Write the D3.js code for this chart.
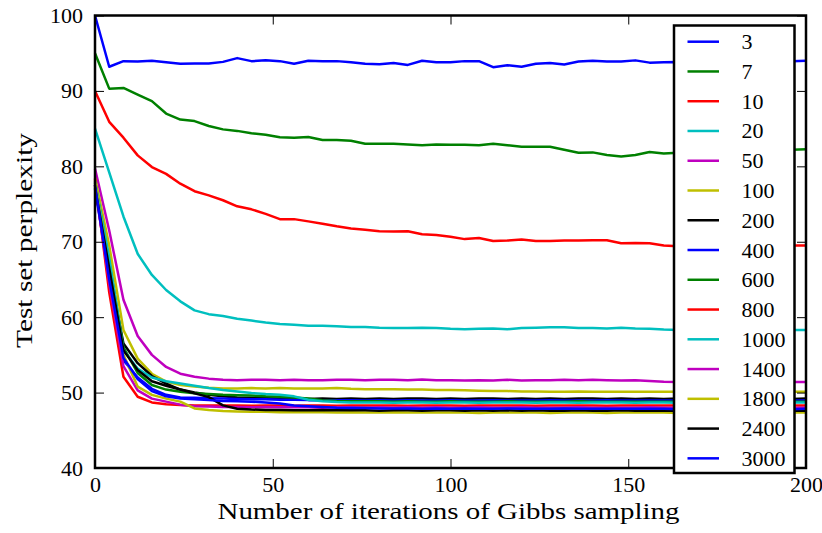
<!DOCTYPE html>
<html>
<head>
<meta charset="utf-8">
<script src="https://cdn.jsdelivr.net/npm/d3@7/dist/d3.min.js"></script>
<style>
  html, body { margin: 0; padding: 0; background: #fff; }
  svg { display: block; }
  text { font-family: "Liberation Serif", "Times New Roman", serif; fill: #000; }
</style>
</head>
<body>
<svg id="chart" width="822" height="533"></svg>
<script>
// Gibbs sampling iterations at which test-set perplexity was measured
const iterations = [
  0, 4, 8, 12, 16, 20, 24, 28, 32, 36,
  40, 44, 48, 52, 56, 60, 64, 68, 72, 76,
  80, 84, 88, 92, 96, 100, 104, 108, 112, 116,
  120, 124, 128, 132, 136, 140, 144, 148, 152, 156,
  160, 164, 168, 172, 176, 180, 184, 188, 192, 196,
  200
];

// Number of topics for each run (legend labels)
const topicCounts = ["3", "7", "10", "20", "50", "100", "200", "400", "600", "800", "1000", "1400", "1800", "2400", "3000"];

// Classic matplotlib colour cycle b, g, r, c, m, y, k
const lineColors = [
  "#0000ff", "#008000", "#ff0000", "#00bfbf", "#bf00bf", "#bfbf00", "#000000",
  "#0000ff", "#008000", "#ff0000", "#00bfbf", "#bf00bf", "#bfbf00", "#000000", "#0000ff"
];

const perp3 = [
  100, 93.2, 93.95, 93.9, 94.0, 93.8, 93.6, 93.65, 93.65, 93.85,
  94.35, 93.95, 94.05, 93.95, 93.6, 94.0, 93.95, 93.95, 93.8, 93.6,
  93.55, 93.7, 93.45, 94.0, 93.8, 93.8, 93.95, 93.95, 93.15, 93.4,
  93.2, 93.6, 93.7, 93.5, 93.9, 94.0, 93.9, 93.9, 94.05, 93.75,
  93.8, 93.85, 93.7, 93.9, 94.0, 93.8, 93.9, 94.1, 93.9, 93.95,
  94.0
];
const perp7 = [
  95.0, 90.3, 90.4, 89.5, 88.65, 87.0, 86.2, 86.0, 85.35, 84.9,
  84.7, 84.4, 84.2, 83.85, 83.8, 83.9, 83.5, 83.5, 83.4, 83.0,
  83.0, 83.0, 82.9, 82.8, 82.9, 82.85, 82.85, 82.8, 83.0, 82.8,
  82.6, 82.6, 82.6, 82.2, 81.8, 81.85, 81.5, 81.3, 81.5, 81.9,
  81.7, 81.8, 81.9, 82.1, 81.95, 82.0, 82.2, 82.1, 82.0, 82.2,
  82.25
];
const perp10 = [
  90.0, 85.9, 83.8, 81.45, 79.9, 79.0, 77.7, 76.7, 76.15, 75.5,
  74.7, 74.3, 73.7, 73.0, 73.0, 72.7, 72.4, 72.05, 71.75, 71.6,
  71.4, 71.35, 71.4, 71.0, 70.9, 70.65, 70.35, 70.5, 70.1, 70.15,
  70.3, 70.1, 70.1, 70.15, 70.15, 70.2, 70.2, 69.8, 69.85, 69.8,
  69.5, 69.4, 69.6, 69.5, 69.3, 69.45, 69.5, 69.3, 69.4, 69.5,
  69.5
];
const perp20 = [
  85.0, 79.2, 73.35, 68.4, 65.6, 63.6, 62.1, 60.9, 60.4, 60.15,
  59.8, 59.55, 59.3, 59.1, 59.0, 58.85, 58.85, 58.8, 58.7, 58.7,
  58.6, 58.55, 58.55, 58.6, 58.55, 58.45, 58.4, 58.45, 58.5, 58.4,
  58.55, 58.6, 58.65, 58.65, 58.55, 58.55, 58.5, 58.6, 58.5, 58.45,
  58.35, 58.3, 58.4, 58.35, 58.3, 58.4, 58.3, 58.35, 58.3, 58.3,
  58.3
];
const perp50 = [
  79.7, 71.5, 62.3, 57.5, 55.0, 53.4, 52.5, 52.1, 51.85, 51.7,
  51.65, 51.7, 51.7, 51.65, 51.7, 51.65, 51.65, 51.7, 51.7, 51.65,
  51.7, 51.7, 51.65, 51.75, 51.65, 51.65, 51.6, 51.65, 51.6, 51.7,
  51.6, 51.65, 51.65, 51.7, 51.65, 51.7, 51.65, 51.6, 51.65, 51.55,
  51.45, 51.4, 51.5, 51.4, 51.45, 51.4, 51.35, 51.4, 51.35, 51.4,
  51.4
];
const perp100 = [
  78.5, 69.5, 58.3, 54.5, 52.5, 51.45, 51.0, 50.8, 50.65, 50.55,
  50.55, 50.6, 50.55, 50.6, 50.55, 50.55, 50.55, 50.6, 50.5, 50.45,
  50.45, 50.45, 50.4, 50.4, 50.35, 50.35, 50.3, 50.25, 50.2, 50.2,
  50.15, 50.15, 50.1, 50.1, 50.15, 50.1, 50.1, 50.1, 50.1, 50.1,
  50.1, 50.1, 50.1, 50.05, 50.1, 50.1, 50.05, 50.1, 50.1, 50.1,
  50.1
];
const perp200 = [
  77.5, 66.0, 56.5, 53.9, 52.2, 51.2, 50.4, 50.0, 49.7, 49.5,
  49.35, 49.3, 49.25, 49.2, 49.2, 49.15, 49.2, 49.15, 49.2, 49.15,
  49.2, 49.15, 49.2, 49.2, 49.15, 49.2, 49.15, 49.2, 49.2, 49.15,
  49.2, 49.15, 49.2, 49.15, 49.2, 49.2, 49.15, 49.2, 49.15, 49.2,
  49.15, 49.2, 49.15, 49.2, 49.15, 49.2, 49.15, 49.2, 49.2, 49.15,
  49.2
];
const perp400 = [
  77.0, 65.5, 54.3, 52.0, 50.5, 49.7, 49.35, 49.3, 49.25, 49.2,
  49.15, 49.1, 49.1, 49.05, 49.05, 49.0, 49.0, 49.0, 49.0, 48.95,
  49.0, 48.95, 49.0, 48.95, 48.95, 49.0, 48.95, 48.95, 49.0, 48.95,
  48.95, 48.95, 49.0, 48.95, 48.95, 48.95, 49.0, 48.95, 48.95, 48.95,
  48.95, 48.95, 48.95, 49.0, 48.95, 48.95, 48.95, 48.95, 48.95, 48.95,
  48.95
];
const perp600 = [
  77.8, 67.5, 56.0, 52.6, 51.0, 50.4, 50.1, 49.9, 49.8, 49.7,
  49.65, 49.6, 49.5, 49.45, 49.35, 49.2, 49.0, 48.9, 48.85, 48.85,
  48.85, 48.8, 48.85, 48.8, 48.8, 48.85, 48.8, 48.8, 48.8, 48.85,
  48.8, 48.8, 48.8, 48.8, 48.85, 48.8, 48.8, 48.8, 48.8, 48.8,
  48.8, 48.8, 48.8, 48.8, 48.8, 48.8, 48.8, 48.8, 48.8, 48.8,
  48.8
];
const perp800 = [
  78.3, 63.3, 52.1, 49.45, 48.7, 48.45, 48.35, 48.3, 48.3, 48.3,
  48.3, 48.25, 48.3, 48.3, 48.25, 48.3, 48.3, 48.25, 48.3, 48.3,
  48.3, 48.3, 48.25, 48.3, 48.3, 48.3, 48.25, 48.3, 48.3, 48.3,
  48.3, 48.25, 48.3, 48.3, 48.3, 48.3, 48.25, 48.3, 48.3, 48.3,
  48.3, 48.3, 48.25, 48.3, 48.3, 48.3, 48.3, 48.25, 48.3, 48.3,
  48.3
];
const perp1000 = [
  78.0, 67.8, 55.6, 53.2, 52.0, 51.5, 51.2, 50.9, 50.6, 50.35,
  50.15, 49.95, 49.8, 49.7, 49.5, 49.05, 48.85, 48.75, 48.7, 48.7,
  48.7, 48.65, 48.7, 48.7, 48.65, 48.7, 48.7, 48.65, 48.7, 48.7,
  48.7, 48.65, 48.7, 48.7, 48.65, 48.7, 48.7, 48.7, 48.65, 48.7,
  48.7, 48.65, 48.7, 48.7, 48.7, 48.65, 48.7, 48.7, 48.65, 48.7,
  48.7
];
const perp1400 = [
  77.5, 64.5, 53.5, 50.3, 49.2, 48.8, 48.4, 48.2, 48.15, 48.1,
  48.1, 48.05, 48.1, 48.05, 48.05, 48.05, 48.0, 48.05, 48.05, 48.0,
  48.05, 48.0, 48.05, 48.0, 48.05, 48.0, 48.0, 48.05, 48.0, 48.0,
  48.05, 48.0, 48.0, 48.0, 48.05, 48.0, 48.0, 48.0, 48.0, 48.05,
  48.0, 48.0, 48.0, 48.0, 48.0, 48.0, 48.0, 48.0, 48.0, 48.0,
  48.0
];
const perp1800 = [
  78.0, 66.0, 55.0, 50.8, 49.7, 49.2, 48.8, 47.9, 47.7, 47.55,
  47.5, 47.45, 47.45, 47.4, 47.4, 47.4, 47.4, 47.35, 47.4, 47.35,
  47.35, 47.4, 47.35, 47.35, 47.35, 47.35, 47.35, 47.3, 47.35, 47.35,
  47.35, 47.35, 47.3, 47.35, 47.35, 47.35, 47.3, 47.35, 47.35, 47.35,
  47.35, 47.3, 47.35, 47.35, 47.35, 47.3, 47.35, 47.35, 47.3, 47.35,
  47.35
];
const perp2400 = [
  77.2, 66.5, 55.6, 53.0, 51.5, 50.9, 50.4, 49.9, 49.4, 48.3,
  47.85, 47.75, 47.7, 47.7, 47.65, 47.65, 47.7, 47.65, 47.65, 47.65,
  47.6, 47.65, 47.65, 47.6, 47.65, 47.65, 47.6, 47.65, 47.6, 47.65,
  47.6, 47.65, 47.6, 47.6, 47.65, 47.6, 47.6, 47.65, 47.6, 47.6,
  47.6, 47.6, 47.65, 47.6, 47.6, 47.6, 47.6, 47.6, 47.6, 47.6,
  47.6
];
const perp3000 = [
  77.5, 65.0, 54.6, 51.8, 50.2, 49.5, 49.2, 49.1, 49.0, 48.9,
  48.85, 48.8, 48.7, 48.55, 48.3, 48.2, 48.1, 48.0, 47.95, 47.95,
  47.9, 47.9, 47.9, 47.85, 47.9, 47.85, 47.9, 47.85, 47.85, 47.9,
  47.85, 47.85, 47.85, 47.9, 47.85, 47.85, 47.85, 47.85, 47.85, 47.85,
  47.85, 47.8, 47.85, 47.85, 47.8, 47.85, 47.85, 47.8, 47.85, 47.8,
  47.85
];

const seriesValues = [
  perp3, perp7, perp10, perp20, perp50, perp100, perp200, perp400,
  perp600, perp800, perp1000, perp1400, perp1800, perp2400, perp3000
];

const xTicks = [0, 50, 100, 150, 200];
const yTicks = [40, 50, 60, 70, 80, 90, 100];
const xTitle = "Number of iterations of Gibbs sampling";
const yTitle = "Test set perplexity";

// ---- layout ----
const plot = { left: 95, right: 806, top: 15.5, bottom: 468 };
const svg = d3.select("#chart");

const x = d3.scaleLinear().domain([0, 200]).range([plot.left, plot.right]);
const y = d3.scaleLinear().domain([40, 100]).range([plot.bottom, plot.top]);

// ---- series lines ----
const line = d3.line()
  .x((d, i) => x(iterations[i]))
  .y(d => y(d));

svg.append("g")
  .selectAll("path")
  .data(seriesValues)
  .join("path")
  .attr("d", line)
  .attr("fill", "none")
  .attr("stroke", (d, i) => lineColors[i])
  .attr("stroke-width", 2.5)
  .attr("stroke-linejoin", "round");

// ---- axes: ticks pointing inward on all four sides ----
const tickLen = 9;
function styleAxis(g) {
  g.select(".domain").remove();
  g.attr("font-family", null).attr("font-size", null);
  g.selectAll(".tick line").attr("stroke", "#000").attr("stroke-width", 1);
  g.selectAll(".tick text").attr("font-size", 22).attr("fill", "#000");
}

svg.append("g")
  .attr("transform", `translate(0,${plot.bottom})`)
  .call(d3.axisBottom(x).tickValues(xTicks).tickFormat(d3.format("d")).tickSizeInner(-tickLen).tickSizeOuter(0).tickPadding(8.5))
  .call(styleAxis);

svg.append("g")
  .attr("transform", `translate(0,${plot.top})`)
  .call(d3.axisTop(x).tickValues(xTicks).tickFormat("").tickSizeInner(-tickLen).tickSizeOuter(0))
  .call(styleAxis);

svg.append("g")
  .attr("transform", `translate(${plot.left},0)`)
  .call(d3.axisLeft(y).tickValues(yTicks).tickFormat(d3.format("d")).tickSizeInner(-tickLen).tickSizeOuter(0).tickPadding(12))
  .call(styleAxis);

svg.append("g")
  .attr("transform", `translate(${plot.right},0)`)
  .call(d3.axisRight(y).tickValues(yTicks).tickFormat("").tickSizeInner(-tickLen).tickSizeOuter(0))
  .call(styleAxis);

// ---- frame ----
svg.append("rect")
  .attr("x", plot.left)
  .attr("y", plot.top)
  .attr("width", plot.right - plot.left)
  .attr("height", plot.bottom - plot.top)
  .attr("fill", "none")
  .attr("stroke", "#000")
  .attr("stroke-width", 2.5);

// ---- axis titles ----
svg.append("text")
  .attr("x", (plot.left + plot.right) / 2 - 2)
  .attr("y", 519)
  .attr("text-anchor", "middle")
  .attr("font-size", 24)
  .attr("textLength", 462)
  .attr("lengthAdjust", "spacingAndGlyphs")
  .text(xTitle);

svg.append("text")
  .attr("transform", "translate(31.5,240.5) rotate(-90)")
  .attr("text-anchor", "middle")
  .attr("font-size", 24)
  .attr("textLength", 215)
  .attr("lengthAdjust", "spacingAndGlyphs")
  .text(yTitle);

// ---- legend ----
const legend = { x: 674, y: 25.5, w: 120.5, h: 447.5, first: 41.7, step: 29.76 };
const lg = svg.append("g");
lg.append("rect")
  .attr("x", legend.x)
  .attr("y", legend.y)
  .attr("width", legend.w)
  .attr("height", legend.h)
  .attr("fill", "#fff")
  .attr("stroke", "#000")
  .attr("stroke-width", 2.5);

const entries = lg.selectAll("g.entry")
  .data(topicCounts)
  .join("g")
  .attr("class", "entry")
  .attr("transform", (d, i) => `translate(0,${legend.first + i * legend.step})`);

entries.append("line")
  .attr("x1", 687.5)
  .attr("x2", 719)
  .attr("stroke", (d, i) => lineColors[i])
  .attr("stroke-width", 2.5);

entries.append("text")
  .attr("x", 741.5)
  .attr("dy", "0.34em")
  .attr("font-size", 22)
  .text(d => d);
</script>
</body>
</html>
